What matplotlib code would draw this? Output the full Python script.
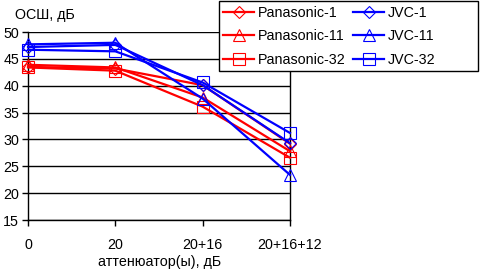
import matplotlib
matplotlib.use("Agg")
import matplotlib.pyplot as plt
from matplotlib.patches import Rectangle

categories = ["0", "20", "20+16", "20+16+12"]
pan1 = [43.5, 43.2, 40.1, 29.2]
pan11 = [43.9, 43.4, 37.8, 27.8]
pan32 = [43.4, 42.8, 36.1, 26.6]
jvc1 = [47.2, 47.6, 40.1, 29.3]
jvc11 = [47.7, 48.0, 37.6, 23.4]
jvc32 = [46.7, 46.4, 40.6, 31.2]
series_names = ["Panasonic-1", "Panasonic-11", "Panasonic-32", "JVC-1", "JVC-11", "JVC-32"]

plt.rcParams['font.family'] = ['Liberation Sans', 'DejaVu Sans']
fig = plt.figure(figsize=(4.8, 2.71), dpi=100)
ax = fig.add_axes([28/480, 1-220/271, (290-28)/480, (220-32)/271])

x = list(range(len(categories)))
styles = [
    (pan1, 'red', 'D', series_names[0]),
    (pan11, 'red', '^', series_names[1]),
    (pan32, 'red', 's', series_names[2]),
    (jvc1, 'blue', 'D', series_names[3]),
    (jvc11, 'blue', '^', series_names[4]),
    (jvc32, 'blue', 's', series_names[5]),
]
handles = []
for vals, col, mk, name in styles:
    ms = 6 if mk == 'D' else 8
    h, = ax.plot(x, vals, color=col, lw=1.6, marker=mk, ms=ms,
                 mfc='none', mec=col, mew=0.8, label=name, clip_on=False, zorder=3)
    handles.append(h)

ax.set_ylim(15, 50)
ax.set_xlim(0, 3)
ax.set_yticks(range(15, 51, 5))
ax.set_xticks(x)
ax.set_xticklabels(categories)
ax.grid(axis='y', color='black', lw=1)
ax.set_axisbelow(True)
for s in ax.spines.values():
    s.set_linewidth(1)
ax.spines['top'].set_visible(False)
ax.tick_params(axis='both', labelsize=10.3, length=4.3, width=1, direction='out', colors='black')
ax.tick_params(axis='x', pad=9)
ax.tick_params(axis='y', pad=2)

fig.text(15/480, 1-15/271, "ОСШ, дБ", fontsize=10.3, va='center', ha='left')
fig.text(160/480, 1-262/271, "аттенюатор(ы), дБ", fontsize=10.3, va='center', ha='center')

frame = Rectangle((219/480, 1-71/271), 259/480, 70/271, transform=fig.transFigure,
                  facecolor='white', edgecolor='black', lw=1, zorder=9)
fig.add_artist(frame)

leg = fig.legend(handles=handles, ncol=2, loc='upper left',
                 bbox_to_anchor=(223/480, 1-6/271),
                 fontsize=10.3, frameon=False, handlelength=2.2,
                 borderpad=0, labelspacing=0.65, columnspacing=0.5, handletextpad=0.25,
                 borderaxespad=0)
leg.set_zorder(10)

fig.savefig("out.png", dpi=100)
